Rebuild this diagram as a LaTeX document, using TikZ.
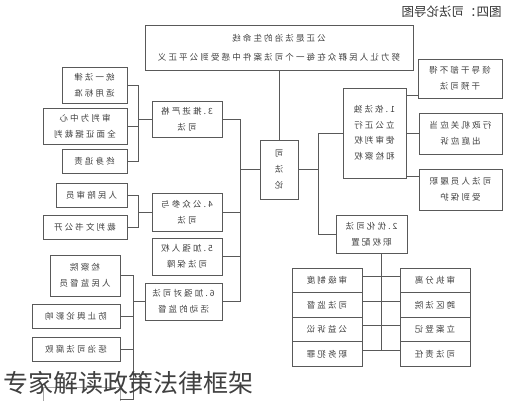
\documentclass[tikz,border=0pt]{standalone}
\usepackage{fontspec}
\usepackage{graphicx}
\newfontfamily\cjk[LetterSpace=25]{Noto Sans CJK SC}
\newfontfamily\cjkplain{Noto Sans CJK SC}
\newcommand{\mt}[1]{\reflectbox{\begin{tabular}{@{}c@{}}#1\end{tabular}}}
\begin{document}
\begin{tikzpicture}[x=1pt,y=-1pt,
  box/.style={draw=black!65, line width=0.8pt, fill=white, text=black!75, inner sep=0pt,
    font=\fontsize{8.5}{16}\selectfont\cjk},
  conn/.style={draw=black!65, line width=0.8pt}]
\useasboundingbox (0,0) rectangle (516,400);
\fill[white] (0,0) rectangle (516,400);

% title (mirrored)
\node[text=black!80, font=\fontsize{12.5}{14}\selectfont\cjkplain] (title) at (451.5,12) {\reflectbox{图四：司法论导图}};

% top and centre
\node[box, minimum width=268pt, minimum height=45pt] (top) at (279,47.5)
  {\mt{公正是法治的生命线\\[3pt]努力让人民群众在每一个司法案件中感受到公平正义}};
\node[box, minimum width=38pt, minimum height=59pt] (c) at (279,169.5) {\mt{司\\法\\论}};

% left branch boxes
\node[box, minimum width=70pt, minimum height=36pt] (b3) at (187,119) {\mt{3.推进严格\\司法}};
\node[box, minimum width=70pt, minimum height=38pt] (b4) at (187,212) {\mt{4.公众参与\\司法}};
\node[box, minimum width=70pt, minimum height=37pt] (b5) at (187,256.5) {\mt{5.加强人权\\司法保障}};
\node[box, minimum width=77pt, minimum height=37pt] (b6) at (183.5,301.5) {\mt{6.加强对司法\\活动的监督}};

\node[box, minimum width=65pt, minimum height=36pt] (a1) at (94.5,85) {\mt{统一法律\\适用标准}};
\node[box, minimum width=84pt, minimum height=36pt] (a2) at (85,126) {\mt{审判为中心\\全面证据裁判}};
\node[box, minimum width=65pt, minimum height=24pt] (a3) at (94.5,161) {\mt{终身追责}};
\node[box, minimum width=71pt, minimum height=24pt] (a4) at (91.5,195) {\mt{人民陪审员}};
\node[box, minimum width=84pt, minimum height=24pt] (a5) at (85,227) {\mt{裁判文书公开}};
\node[box, minimum width=70pt, minimum height=41pt] (a6) at (85,275.5) {\mt{检察院\\人民监督员}};
\node[box, minimum width=88pt, minimum height=24pt] (a7) at (76,316) {\mt{防止舆论影响}};
\node[box, minimum width=88pt, minimum height=24pt] (a8) at (76,349) {\mt{惩治司法腐败}};
\node[box, draw=black!35, minimum width=77pt, minimum height=24pt] (a9) at (81.5,399) {};

% right branch boxes
\node[box, minimum width=63pt, minimum height=90pt, font=\fontsize{8.5}{15.5}\selectfont\cjk] (b1) at (374.5,133)
  {\mt{1.依法独\\立公正行\\使审判权\\和检察权}};
\node[box, minimum width=71pt, minimum height=38pt] (b2) at (371.5,234) {\mt{2.优化司法\\职权配置}};

\node[box, minimum width=84pt, minimum height=39pt] (r1) at (460,78.5) {\mt{领导干部不得\\干预司法}};
\node[box, minimum width=83pt, minimum height=41pt] (r2) at (460.5,133.5) {\mt{行政机关应当\\出庭应诉}};
\node[box, minimum width=83pt, minimum height=41pt] (r3) at (460.5,189.5) {\mt{司法人员履职\\受到保护}};

\node[box, minimum width=70pt, minimum height=24.5pt] (q1) at (327,280.5) {\mt{审级制度}};
\node[box, minimum width=70pt, minimum height=24.5pt] (q2) at (327,305) {\mt{司法监督}};
\node[box, minimum width=70pt, minimum height=24.5pt] (q3) at (327,329.5) {\mt{公益诉讼}};
\node[box, minimum width=70pt, minimum height=24.5pt] (q4) at (327,354) {\mt{职务犯罪}};
\node[box, minimum width=70pt, minimum height=24.5pt] (p1) at (435,280.5) {\mt{审执分离}};
\node[box, minimum width=70pt, minimum height=24.5pt] (p2) at (435,305) {\mt{跨区法院}};
\node[box, minimum width=70pt, minimum height=24.5pt] (p3) at (435,329.5) {\mt{立案登记}};
\node[box, minimum width=70pt, minimum height=24.5pt] (p4) at (435,354) {\mt{司法责任}};

% trunk coordinates
\coordinate (LT) at (240,0);
\coordinate (RT) at (318,0);
\coordinate (BL1) at (138,0);
\coordinate (BL2) at (133,0);
\coordinate (V) at (381,0);

\begin{scope}[on background layer/.style={}]
\draw[conn] (top.south) -- (c.north);
\draw[conn] (c.west) -- (c.west -| LT);
\draw[conn] (b3.east) -- (b3.east -| LT) -- (b6.east -| LT) -- (b6.east);
\draw[conn] (b4.east) -- (b4.east -| LT);
\draw[conn] (b5.east) -- (b5.east -| LT);
\draw[conn] (c.east) -- (c.east -| RT);
\draw[conn] (b1.west) -- (b1.west -| RT) -- (b2.west -| RT) -- (b2.west);

\draw[conn] (a1.east) -- (a1.east -| BL1) -- (a3.east -| BL1) -- (a3.east);
\draw[conn] (a2.east) -- (a2.east -| BL1);
\draw[conn] (b3.west) -- (b3.west -| BL1);
\draw[conn] (a4.east) -- (a4.east -| BL1) -- (a5.east -| BL1) -- (a5.east);
\draw[conn] (b4.west) -- (b4.west -| BL1);

\draw[conn] (a6.east) -- (a6.east -| BL2) -- (a9.east -| BL2) -- (a9.east);
\draw[conn] (a7.east) -- (a7.east -| BL2);
\draw[conn] (a8.east) -- (a8.east -| BL2);
\draw[conn] (b6.west) -- (b6.west -| BL2);

\coordinate (k1) at (b1.east |- r1.south);
\draw[conn] ([yshift=3pt]k1) -- ([yshift=3pt]r1.south west);
\draw[conn] (b1.east |- r2.west) -- (r2.west);
\coordinate (k3) at (b1.east |- r3.north);
\draw[conn] ([yshift=-8pt]k3) -- ([yshift=-8pt]r3.north west);

\draw[conn] (b2.south -| V) -- ([yshift=4pt]q4.east -| V);
\draw[conn] ([yshift=4pt]q1.east) -- ([yshift=4pt]p1.west);
\draw[conn] ([yshift=4pt]q2.east) -- ([yshift=4pt]p2.west);
\draw[conn] ([yshift=4pt]q3.east) -- ([yshift=4pt]p3.west);
\draw[conn] ([yshift=4pt]q4.east) -- ([yshift=4pt]p4.west);
\end{scope}

% overlay caption
\node[anchor=west, text=black!75, font=\fontsize{25}{28}\selectfont\cjkplain, inner sep=0pt] (cap) at (3,383) {专家解读政策法律框架};
\end{tikzpicture}
\end{document}
